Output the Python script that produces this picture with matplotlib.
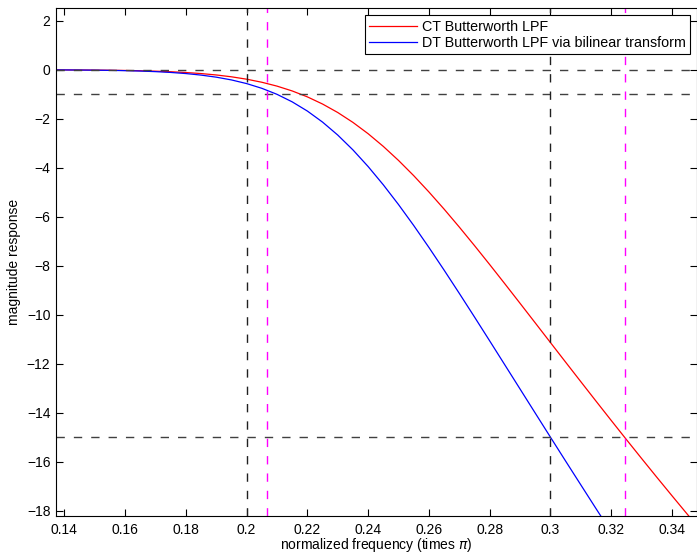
import numpy as np
import matplotlib
matplotlib.use('Agg')
import matplotlib.pyplot as plt

plt.rcParams['font.family'] = ['Liberation Sans', 'DejaVu Sans']
plt.rcParams['lines.scale_dashes'] = False

# normalized frequency (times pi), sampled every 0.005
freq = [0.135, 0.14, 0.145, 0.15, 0.155, 0.16, 0.165, 0.17, 0.175, 0.18,
        0.185, 0.19, 0.195, 0.2, 0.205, 0.21, 0.215, 0.22, 0.225, 0.23,
        0.235, 0.24, 0.245, 0.25, 0.255, 0.26, 0.265, 0.27, 0.275, 0.28,
        0.285, 0.29, 0.295, 0.3, 0.305, 0.31, 0.315, 0.32, 0.325, 0.33,
        0.335, 0.34, 0.345, 0.35]

# CT Butterworth LPF magnitude (dB)
ct_mag = [-0.0036, -0.0056, -0.0085, -0.0127, -0.0188, -0.0275, -0.0397, -0.0567,
          -0.0801, -0.1119, -0.1546, -0.2116, -0.2866, -0.3840, -0.5089, -0.6669,
          -0.8641, -1.1062, -1.3986, -1.7450, -2.1489, -2.6106, -3.1295, -3.7017,
          -4.3231, -4.9883, -5.6892, -6.4218, -7.1780, -7.9520, -8.7392, -9.5351,
          -10.335, -11.137, -11.938, -12.735, -13.529, -14.317, -15.097, -15.870,
          -16.635, -17.391, -18.139, -18.880]

# DT Butterworth LPF via bilinear transform magnitude (dB)
dt_freq = freq[:38]
dt_mag = [-0.0043, -0.0067, -0.0104, -0.0159, -0.0239, -0.0355, -0.0521, -0.0756,
          -0.1086, -0.1543, -0.2168, -0.3014, -0.4144, -0.5632, -0.7561, -1.0019,
          -1.3093, -1.6853, -2.1367, -2.6655, -3.2715, -3.9513, -4.6978, -5.5035,
          -6.3581, -7.2532, -8.1794, -9.1280, -10.093, -11.068, -12.051, -13.034,
          -14.018, -15.000, -15.977, -16.948, -17.917, -18.877]

spec_db = [0, -1, -15]          # horizontal guides
spec_freq = [0.2, 0.3]          # band edges
prewarp_freq = [0.2068, 0.3244] # prewarped edges

xticks = [0.14, 0.16, 0.18, 0.2, 0.22, 0.24, 0.26, 0.28, 0.3, 0.32, 0.34]
xticklabels = ['0.14', '0.16', '0.18', '0.2', '0.22', '0.24', '0.26', '0.28', '0.3', '0.32', '0.34']
yticks = list(range(-18, 3, 2))

fs = 10

fig = plt.figure(figsize=(6.97, 5.54), dpi=100)
ax = fig.add_axes([56 / 697, 1 - 516.3 / 554, (697 - 56) / 697, (516.3 - 8.3) / 554])

ax.plot(freq, ct_mag, color='red', lw=0.9, label='CT Butterworth LPF')
ax.plot(dt_freq, dt_mag, color='blue', lw=0.9, label='DT Butterworth LPF via bilinear transform')

dash = (0, (6, 6.5))
for d in spec_db:
    ax.axhline(d, color='#404040', lw=1.0, linestyle=dash)
for f in spec_freq:
    ax.axvline(f, color='#202020', lw=1.0, linestyle=dash)
for f in prewarp_freq:
    ax.axvline(f, color='#ff00ff', lw=1.0, linestyle=dash)

ax.set_xlim(0.13727, 0.34823)
ax.set_ylim(-18.23, 2.51)
ax.set_xticks(xticks)
ax.set_xticklabels(xticklabels)
ax.set_yticks(yticks)
ax.tick_params(direction='in', length=5, width=0.8, top=True, right=True, labelsize=fs)
ax.tick_params(axis='x', pad=4.5)
ax.tick_params(axis='y', pad=4)
for s in ax.spines.values():
    s.set_linewidth(0.8)

ax.set_xlabel('normalized frequency (times $\\pi$)', fontsize=fs)
ax.xaxis.set_label_coords(0.5, 1 - (553.6 - 8.3) / (516.3 - 8.3))
ax.xaxis.label.set_va('bottom')
ax.set_ylabel('magnitude response', fontsize=fs, labelpad=4)

leg = ax.legend(loc='upper right', fontsize=10.3, fancybox=False, framealpha=1,
                edgecolor='black', borderpad=0.3, handlelength=3.3,
                handletextpad=0.35, labelspacing=0.15, borderaxespad=0.5)
leg.get_frame().set_linewidth(0.8)

fig.savefig('out.png', dpi=100)
